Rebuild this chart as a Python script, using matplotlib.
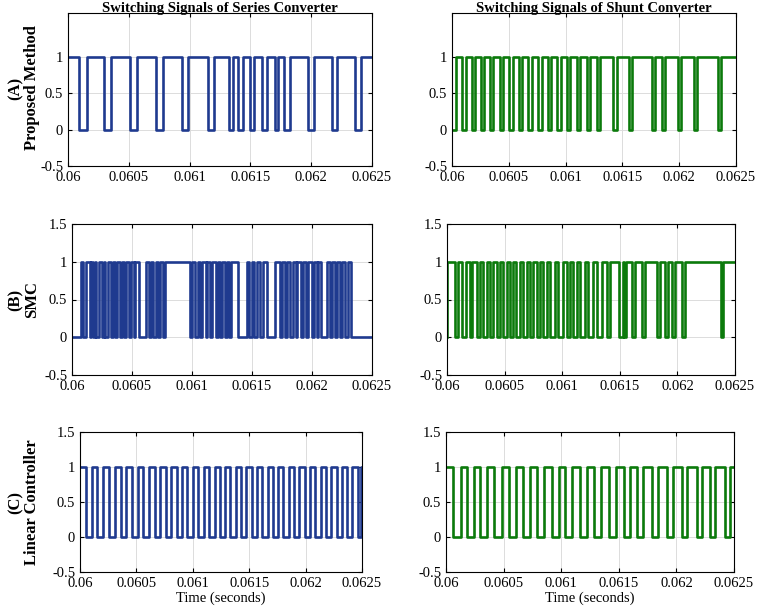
import numpy as np
import matplotlib.pyplot as plt

plt.rcParams['font.family'] = ['Liberation Serif', 'DejaVu Serif']

# switching instants in ms (the signal toggles at each instant)
series_pm_start = 1
series_pm_edges = [60.090, 60.156, 60.296, 60.354, 60.510, 60.567, 60.724, 60.781,
                   60.938, 60.987, 61.151, 61.201, 61.324, 61.357, 61.398, 61.439,
                   61.497, 61.530, 61.595, 61.637, 61.702, 61.727, 61.776, 61.826,
                   61.974, 62.023, 62.171, 62.212, 62.360, 62.410]

shunt_pm_start = 0
shunt_pm_edges = [60.035, 60.085, 60.123, 60.173, 60.202, 60.253, 60.282, 60.334,
                  60.363, 60.422, 60.451, 60.504, 60.534, 60.590, 60.619, 60.671,
                  60.701, 60.759, 60.789, 60.842, 60.871, 60.927, 60.957, 61.009,
                  61.038, 61.097, 61.126, 61.185, 61.214, 61.273, 61.302, 61.417,
                  61.452, 61.558, 61.584, 61.760, 61.786, 61.848, 61.874, 61.989,
                  62.015, 62.130, 62.156, 62.341, 62.367]

series_smc_start = 0
series_smc_edges = [60.075, 60.092, 60.113, 60.146, 60.158, 60.171, 60.188, 60.204,
                    60.221, 60.246, 60.263, 60.279, 60.296, 60.325, 60.342, 60.358,
                    60.375, 60.400, 60.417, 60.433, 60.450, 60.475, 60.492, 60.513,
                    60.529, 60.558, 60.613, 60.642, 60.658, 60.679, 60.696, 60.717,
                    60.733, 60.758, 60.775, 60.983, 61.000, 61.025, 61.046, 61.067,
                    61.083, 61.113, 61.129, 61.150, 61.167, 61.196, 61.213, 61.233,
                    61.250, 61.271, 61.288, 61.308, 61.325, 61.383, 61.458, 61.479,
                    61.496, 61.517, 61.538, 61.567, 61.588, 61.621, 61.688, 61.733,
                    61.750, 61.775, 61.792, 61.817, 61.838, 61.863, 61.879, 61.908,
                    61.925, 61.950, 61.967, 61.996, 62.013, 62.038, 62.054, 62.079,
                    62.121, 62.150, 62.167, 62.192, 62.208, 62.233, 62.254, 62.279,
                    62.296, 62.329]

shunt_smc_start = 0
shunt_smc_edges = [60.004, 60.069, 60.098, 60.128, 60.165, 60.200, 60.214, 60.258,
                   60.286, 60.310, 60.345, 60.373, 60.402, 60.437, 60.460, 60.489,
                   60.518, 60.547, 60.570, 60.599, 60.634, 60.662, 60.697, 60.720,
                   60.749, 60.779, 60.807, 60.836, 60.866, 60.894, 60.938, 60.966,
                   61.010, 61.039, 61.068, 61.096, 61.126, 61.155, 61.198, 61.227,
                   61.270, 61.299, 61.343, 61.386, 61.415, 61.496, 61.525, 61.536,
                   61.554, 61.603, 61.632, 61.690, 61.719, 61.820, 61.849, 61.892,
                   61.921, 61.951, 61.979, 62.037, 62.066, 62.376, 62.398]

series_lin_start = 1
series_lin_edges = [60.050, 60.103, 60.155, 60.207, 60.258, 60.310, 60.360, 60.412,
                    60.462, 60.513, 60.562, 60.613, 60.662, 60.712, 60.760, 60.809,
                    60.857, 60.905, 60.953, 61.001, 61.049, 61.097, 61.145, 61.193,
                    61.240, 61.287, 61.334, 61.381, 61.428, 61.475, 61.522, 61.569,
                    61.616, 61.663, 61.710, 61.757, 61.804, 61.851, 61.898, 61.945,
                    61.992, 62.039, 62.086, 62.133, 62.180, 62.227, 62.274, 62.321,
                    62.368, 62.415, 62.462, 62.490]

shunt_lin_start = 1
shunt_lin_edges = [60.061, 60.126, 60.178, 60.239, 60.299, 60.360, 60.421, 60.482,
                   60.547, 60.608, 60.668, 60.729, 60.794, 60.855, 60.916, 60.977,
                   61.037, 61.098, 61.159, 61.220, 61.285, 61.345, 61.415, 61.476,
                   61.541, 61.597, 61.658, 61.710, 61.788, 61.840, 61.918, 61.970,
                   62.049, 62.096, 62.179, 62.222, 62.296, 62.339, 62.426, 62.461]

x_ticks = [0.06, 0.0605, 0.061, 0.0615, 0.062, 0.0625]
x_labels = ['0.06', '0.0605', '0.061', '0.0615', '0.062', '0.0625']
y_ticks = [-0.5, 0, 0.5, 1, 1.5]
y_labels = ['-0.5', '0', '0.5', '1', '1.5']

blue = '#1f3a8f'
green = '#0b7a0b'


def square_wave(start, edges, t0=60.0, t1=62.5):
    t = [t0]
    v = [start]
    s = start
    for e in edges:
        t += [e, e]
        v += [s, 1 - s]
        s = 1 - s
    t.append(t1)
    v.append(s)
    return np.array(t) * 1e-3, np.array(v)


W, H = 757, 613


def axes_px(fig, x0, y0, x1, y1):
    # pixel box (left, top, right, bottom) -> figure fraction
    return fig.add_axes([x0 / W, 1 - y1 / H, (x1 - x0) / W, (y1 - y0) / H])


fig = plt.figure(figsize=(W / 100, H / 100), dpi=100)

# box, signal, colour, y top limit, number of y ticks shown
panels = [
    ((68, 13, 372, 166), series_pm_start, series_pm_edges, blue, 1.6, 4),
    ((452, 13, 736, 166), shunt_pm_start, shunt_pm_edges, green, 1.6, 4),
    ((72, 224, 372, 375), series_smc_start, series_smc_edges, blue, 1.5, 5),
    ((447, 224, 735, 375), shunt_smc_start, shunt_smc_edges, green, 1.5, 5),
    ((80, 432, 362, 572), series_lin_start, series_lin_edges, blue, 1.5, 5),
    ((446, 432, 734, 572), shunt_lin_start, shunt_lin_edges, green, 1.5, 5),
]

axs = []
for box, start, edges, col, ytop, nyt in panels:
    ax = axes_px(fig, *box)
    t, v = square_wave(start, edges)
    ax.plot(t, v, color=col, lw=1.9)
    ax.set_xlim(0.06, 0.0625)
    ax.set_ylim(-0.5, ytop)
    ax.set_xticks(x_ticks)
    ax.set_xticklabels(x_labels)
    ax.set_yticks(y_ticks[:nyt])
    ax.set_yticklabels(y_labels[:nyt])
    ax.grid(True, color='#dcdcdc', lw=0.7)
    ax.tick_params(direction='in', top=True, right=True, labelsize=10.5, length=3)
    for sp in ax.spines.values():
        sp.set_linewidth(0.8)
    axs.append(ax)

axs[0].set_title('Switching Signals of Series Converter', fontsize=10.5, fontweight='bold', pad=1)
axs[1].set_title('Switching Signals of Shunt Converter', fontsize=10.5, fontweight='bold', pad=1)
axs[4].set_xlabel('Time (seconds)', fontsize=10.5, labelpad=1)
axs[5].set_xlabel('Time (seconds)', fontsize=10.5, labelpad=1)

fig.text(24 / W, 1 - 88 / H, '(A)\nProposed Method', rotation=90, ha='center', va='center',
         fontsize=12, fontweight='bold', linespacing=1.0)
fig.text(24 / W, 1 - 300 / H, '(B)\nSMC', rotation=90, ha='center', va='center',
         fontsize=12, fontweight='bold', linespacing=1.0)
fig.text(24 / W, 1 - 502 / H, '(C)\nLinear Controller', rotation=90, ha='center', va='center',
         fontsize=12, fontweight='bold', linespacing=1.0)

fig.savefig('out.png', dpi=100)
